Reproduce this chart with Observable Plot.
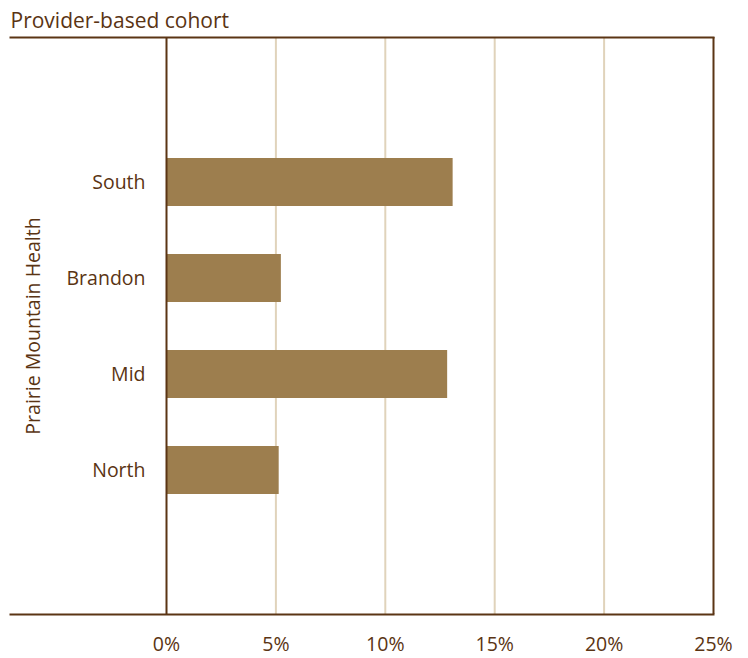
<!DOCTYPE html>
<html>
<head>
<meta charset="utf-8">
<script src="https://cdn.jsdelivr.net/npm/d3@7"></script>
<script src="https://cdn.jsdelivr.net/npm/@observablehq/plot@0.6"></script>
<style>
  html, body { margin: 0; padding: 0; background: #fff; }
  svg { display: block; }
</style>
</head>
<body>
<div id="chart"></div>
<script>
const regions = ["South", "Brandon", "Mid", "North"];
const values = [13.1, 5.25, 12.85, 5.15];
const xTicks = [0, 5, 10, 15, 20, 25];
const gridTicks = [5, 10, 15, 20];
const title = "Provider-based cohort";
const groupLabel = "Prairie Mountain Health";

const data = regions.map((r, i) => ({region: r, value: values[i]}));

const dark = "#5b3514";
const textColor = "#5a3413";
const barColor = "#9d7e4e";
const gridColor = "#e0d3bb";
const font = "'Open Sans', sans-serif";

const chart = Plot.plot({
  width: 748,
  height: 658,
  marginLeft: 10,
  marginRight: 35,
  marginTop: 37,
  marginBottom: 44,
  style: {fontFamily: font, color: textColor, background: "#fff"},
  x: {domain: [0, 25], range: [166, 713]},
  y: {domain: regions, paddingInner: 0.5, paddingOuter: 1.25, axis: null},
  marks: [
    Plot.gridX(gridTicks, {stroke: gridColor, strokeOpacity: 1, strokeWidth: 2}),
    Plot.barX(data, {x: "value", y: "region", fill: barColor}),
    Plot.ruleX([xTicks[0], xTicks[xTicks.length - 1]], {stroke: dark, strokeWidth: 2}),
    Plot.frame({anchor: "top", stroke: dark, strokeWidth: 2}),
    Plot.frame({anchor: "bottom", stroke: dark, strokeWidth: 2}),
    Plot.axisX(xTicks, {tickSize: 0, tickPadding: 23, tickFormat: d => d + "%", fontSize: 19.5, fill: textColor, label: null}),
    Plot.text(data, {x: 0, y: "region", text: "region", textAnchor: "end", dx: -21, fontSize: 19.5, fill: textColor}),
    Plot.text([groupLabel], {frameAnchor: "left", textAnchor: "middle", rotate: -90, dx: 23, fontSize: 19.5, fill: textColor}),
    Plot.text([title], {frameAnchor: "top-left", textAnchor: "start", dy: -24, fontSize: 21, fill: textColor})
  ]
});
document.getElementById("chart").appendChild(chart);
</script>
</body>
</html>
